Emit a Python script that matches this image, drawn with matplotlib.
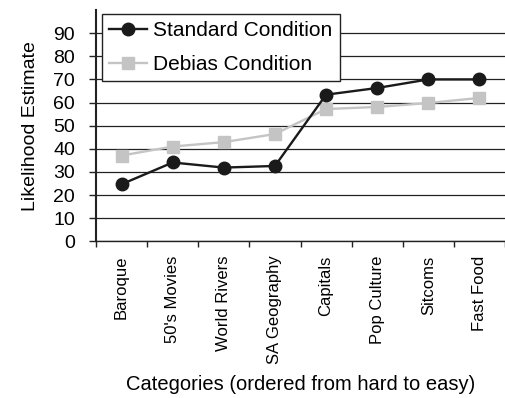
import matplotlib.pyplot as plt

plt.rcParams['font.family'] = ['Liberation Sans', 'DejaVu Sans']

categories = ['Baroque', "50's Movies", 'World Rivers', 'SA Geography',
              'Capitals', 'Pop Culture', 'Sitcoms', 'Fast Food']
standard = [24.7, 34.1, 31.9, 32.6, 63.4, 66.3, 70.0, 70.0]
debias = [37.1, 41.0, 42.9, 46.4, 57.2, 58.1, 59.8, 62.0]
yticks = [0, 10, 20, 30, 40, 50, 60, 70, 80, 90]

fig = plt.figure(figsize=(5.05, 3.98), dpi=100)
ax = fig.add_axes([96 / 505, 1 - 241.4 / 398, 409 / 505, 231.4 / 398])

x = list(range(len(categories)))
ax.plot(x, debias, color='#c4c4c4', lw=1.7, marker='s', ms=9,
        mfc='#c4c4c4', mec='#c4c4c4', label='Debias Condition', zorder=3)
ax.plot(x, standard, color='#1a1a1a', lw=1.7, marker='o', ms=9,
        mfc='#1a1a1a', mec='#1a1a1a', label='Standard Condition', zorder=4)

ax.set_xlim(-0.5, 7.41)
ax.set_ylim(0, 100)
ax.set_yticks(yticks)
ax.set_yticklabels([str(v) for v in yticks], fontsize=14)
ax.yaxis.grid(True, color='#222222', lw=0.9)
ax.set_axisbelow(True)

ax.set_xticks([i - 0.5 for i in range(len(categories) + 1)])
ax.set_xticklabels([])
ax.set_xticks(x, minor=True)
ax.set_xticklabels(categories, minor=True, rotation=90, fontsize=12, va='top')
ax.tick_params(axis='x', which='minor', length=0, pad=10)
ax.tick_params(axis='x', which='major', length=4, direction='out', width=1, color='#222222')
ax.tick_params(axis='y', length=5, direction='out', width=1, color='#222222', pad=10)

for s in ['top', 'right']:
    ax.spines[s].set_visible(False)
ax.spines['left'].set_linewidth(1.5)
ax.spines['bottom'].set_linewidth(1.0)
ax.spines['left'].set_color('#222222')
ax.spines['bottom'].set_color('#222222')

ax.set_ylabel('Likelihood Estimate', fontsize=14, labelpad=10)
ax.set_xlabel('Categories (ordered from hard to easy)', fontsize=14.5, labelpad=8)

h, l = ax.get_legend_handles_labels()
leg = ax.legend(h[::-1], l[::-1], loc='upper left', bbox_to_anchor=(0.015, 0.983),
                fontsize=15, frameon=True, fancybox=False, framealpha=1,
                edgecolor='#222222', handlelength=1.8, handletextpad=0.3,
                borderpad=0.35, labelspacing=0.7, borderaxespad=0)
leg.get_frame().set_linewidth(1.0)

fig.savefig('out.png', dpi=100)
